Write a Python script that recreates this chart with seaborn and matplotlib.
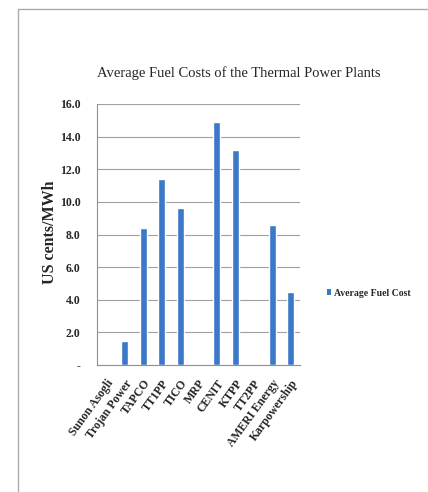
import matplotlib
matplotlib.use("Agg")
import matplotlib.pyplot as plt
import seaborn as sns
import pandas as pd
import numpy as np
from matplotlib.lines import Line2D
from matplotlib.patches import Patch
from matplotlib.ticker import FixedLocator

plants = ["Sunon Asogli", "Trojan Power", "TAPCO", "TT1PP", "TICO", "MRP",
          "CENIT", "KTPP", "TT2PP", "AMERI Energy", "Karpowership"]
fuel_cost = [0.0, 1.5, 8.4, 11.4, 9.6, 0.0, 14.9, 13.2, 0.0, 8.6, 4.5]
y_ticks = [0, 2, 4, 6, 8, 10, 12, 14, 16]
y_tick_labels = ["-", "2.0", "4.0", "6.0", "8.0", "10.0", "12.0", "14.0", "16.0"]
series_name = "Average Fuel Cost"

df = pd.DataFrame({"plant": plants, "cost": fuel_cost})

sns.set_style("white")
plt.rcParams["font.family"] = ["Liberation Serif", "DejaVu Serif"]

W, H = 428, 492
fig = plt.figure(figsize=(W / 100, H / 100), dpi=100)
ax = fig.add_axes([97 / W, 1 - 365 / H, (300 - 97) / W, (365 - 104) / H])

bar_color = "#3b78c8"
sns.barplot(data=df, x="plant", y="cost", color=bar_color, width=0.38,
            saturation=1, ax=ax, zorder=3)

ax.set_ylim(0, 16)
ax.set_xlim(-0.5, len(plants) - 0.5)
ax.set_yticks(y_ticks)
ax.set_yticklabels(y_tick_labels, fontsize=8.5, fontweight="bold")
ax.yaxis.grid(True, color="#a0a0a0", linewidth=0.8, zorder=0)
ax.set_axisbelow(True)

ax.set_xticks(range(len(plants)))
ax.set_xticklabels(plants, rotation=54, ha="right", rotation_mode="anchor",
                   fontsize=8.5, fontweight="bold")
ax.tick_params(axis="x", which="major", length=0, pad=9)
ax.xaxis.set_minor_locator(FixedLocator(np.arange(-0.5, len(plants), 1.0)))
ax.tick_params(axis="x", which="minor", length=3, color="#909090", width=0.8)
ax.tick_params(axis="y", length=4, color="#909090", width=0.8, pad=8)

for s in ["top", "right"]:
    ax.spines[s].set_visible(False)
for s in ["left", "bottom"]:
    ax.spines[s].set_color("#909090")
    ax.spines[s].set_linewidth(0.8)

ax.set_xlabel("")
ax.set_ylabel("US cents/MWh", fontsize=11.5, fontweight="bold")
ax.yaxis.set_label_coords(-0.19, 0.51)

fig.text(239 / W, 1 - 73 / H, "Average Fuel Costs of the Thermal Power Plants",
         ha="center", va="center", fontsize=10.5)

handle = Patch(facecolor=bar_color, edgecolor="none")
fig.legend([handle], [series_name], loc="center left",
           bbox_to_anchor=(323 / W, 1 - 293 / H), frameon=False,
           prop={"size": 7, "weight": "bold"}, handlelength=0.45,
           handleheight=0.6, handletextpad=0.25, borderaxespad=0)

# thin outer frame (top and left)
fig.add_artist(Line2D([18 / W, 1], [1 - 8.5 / H, 1 - 8.5 / H],
                      transform=fig.transFigure, color="#ababab", linewidth=1))
fig.add_artist(Line2D([18 / W, 18 / W], [0, 1 - 8.5 / H],
                      transform=fig.transFigure, color="#ababab", linewidth=1))

fig.savefig("out.png", dpi=100, facecolor="white")
